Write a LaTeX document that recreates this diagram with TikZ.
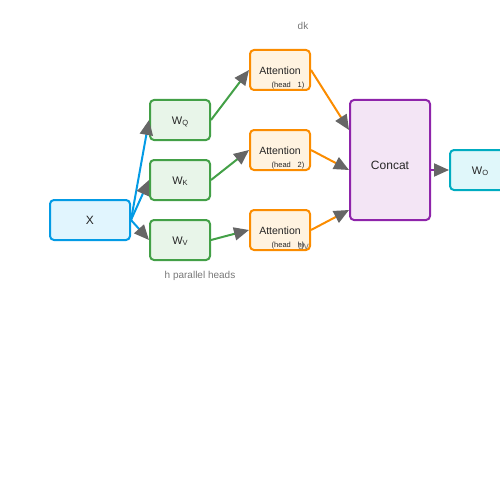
\documentclass[tikz,border=0pt]{standalone}
\usepackage{fontspec}
\setmainfont{Liberation Sans}
\usetikzlibrary{arrows.meta}
\usetikzlibrary{positioning}
\definecolor{xline}{HTML}{039BE5}
\definecolor{xfill}{HTML}{E1F5FE}
\definecolor{wline}{HTML}{43A047}
\definecolor{wfill}{HTML}{E8F5E9}
\definecolor{aline}{HTML}{FB8C00}
\definecolor{afill}{HTML}{FFF3E0}
\definecolor{cline}{HTML}{8E24AA}
\definecolor{cfill}{HTML}{F3E5F5}
\definecolor{oline}{HTML}{00ACC1}
\definecolor{ofill}{HTML}{E0F7FA}
\definecolor{tipgray}{HTML}{666666}
\definecolor{notegray}{HTML}{777777}
\tikzstyle{box}=[draw,rounded corners=4pt,line width=2pt,inner sep=0pt,text=black!85,text depth=0pt]
\tikzstyle{xbox}=[box,draw=xline,fill=xfill,minimum width=80pt,minimum height=40pt,text height=8.6pt,font=\fontsize{12}{14}\selectfont]
\tikzstyle{wbox}=[box,draw=wline,fill=wfill,minimum width=60pt,minimum height=40pt,text height=9.9pt,font=\fontsize{11}{13}\selectfont]
\tikzstyle{attbox}=[box,draw=aline,fill=afill,minimum width=60pt,minimum height=40pt,text height=9.5pt,font=\fontsize{10.5}{12}\selectfont]
\tikzstyle{catbox}=[box,draw=cline,fill=cfill,minimum width=80pt,minimum height=120pt,text height=18.6pt,font=\fontsize{12}{14}\selectfont]
\tikzstyle{obox}=[box,draw=oline,fill=ofill,minimum width=60pt,minimum height=40pt,text height=9.9pt,font=\fontsize{11}{13}\selectfont]
\tikzstyle{headtag}=[inner sep=0pt,font=\fontsize{7.5}{8}\selectfont,text=black!85]
\tikzstyle{note}=[inner sep=0pt,font=\fontsize{10}{12}\selectfont,text=notegray]
\tikzstyle{link}=[line width=2pt,-{Triangle[length=15pt,width=13pt,color=tipgray]}]
\newcommand{\wsub}[1]{\raisebox{-0.8pt}{\fontsize{7.5}{8}\selectfont #1}}

\begin{document}
\begin{tikzpicture}[x=1pt,y=-1pt]
\clip (0,0) rectangle (500,500);
\node [xbox] (x) at (90,220) {X};
\node [wbox] (wq) at (180,120) {W\wsub{Q}};
\node [wbox] (wk) at (180,180) {W\wsub{K}};
\node [wbox] (wv) at (180,240) {W\wsub{V}};
\node [attbox] (a1) at (280,70) {Attention};
\node [attbox] (a2) at (280,150) {Attention};
\node [attbox] (ah) at (280,230) {Attention};
\node [headtag] (h1) at ([xshift=8pt,yshift=-15.5pt]a1) {(head\hspace{0.9em}1)};
\node [headtag] (h2) at ([xshift=8pt,yshift=-15.5pt]a2) {(head\hspace{0.9em}2)};
\node [headtag] (hh) at ([xshift=8pt,yshift=-15.5pt]ah) {(head\hspace{0.9em}h)};
\node [note] (dk) at (303,26) {dk};
\node [note] (dv) at (303.5,246) {dv};
\node [note] (heads) at (200,276) {h parallel heads};
\node [catbox] (concat) at (390,160) {Concat};
\node [obox] (wo) at (480,170) {W\wsub{O}};

\coordinate (c1) at ([yshift=30pt]concat.west);
\coordinate (c2) at ([yshift=-10pt]concat.west);
\coordinate (ch) at ([yshift=-50pt]concat.west);
\coordinate (cout) at ([yshift=-10pt]concat.east);

\draw[link,xline] (x.east) -- (wq.west);
\draw[link,xline] (x.east) -- (wk.west);
\draw[link,xline] (x.east) -- (wv.west);
\draw[link,wline] (wq.east) -- (a1.west);
\draw[link,wline] (wk.east) -- (a2.west);
\draw[link,wline] (wv.east) -- (ah.west);
\draw[link,aline] (a1.east) -- (c1);
\draw[link,aline] (a2.east) -- (c2);
\draw[link,aline] (ah.east) -- (ch);
\draw[link,cline] (cout) -- (wo.west);
\end{tikzpicture}
\end{document}
